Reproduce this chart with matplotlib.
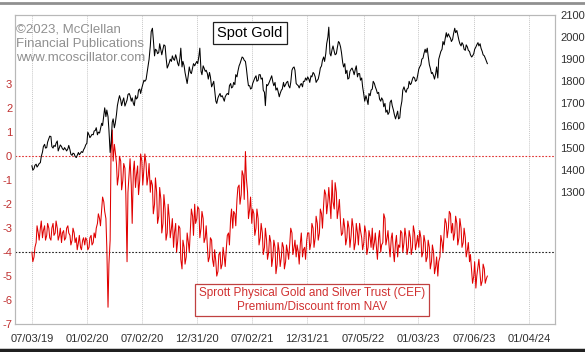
import matplotlib
matplotlib.use("Agg")
import matplotlib.pyplot as plt
from matplotlib.lines import Line2D
import pandas as pd

plt.rcParams['font.family'] = ['Liberation Sans', 'DejaVu Sans']

start_date = "2019-07-03"

# weekly (Wednesday) readings
gold = [
    1418, 1405, 1425, 1420, 1432, 1480, 1515, 1500, 1540, 1550, 1498, 1505, 1530,
    1500, 1505, 1490, 1492, 1495, 1490, 1465, 1472, 1455, 1478, 1475, 1478, 1500,
    1520, 1558, 1553, 1558, 1578, 1558, 1566, 1610, 1645, 1640, 1640, 1478, 1615,
    1590, 1650, 1718, 1715, 1712, 1688, 1715, 1745, 1710, 1700, 1735, 1727, 1765,
    1770, 1805, 1808, 1868, 1960, 2040, 1915, 1940, 1930, 1940, 1945, 1960, 1860,
    1885, 1890, 1900, 1920, 1880, 1905, 1865, 1870, 1810, 1830, 1840, 1860, 1870, 1890,
    1915, 1845, 1870, 1845, 1835, 1840, 1775, 1800, 1710, 1725, 1745, 1735, 1710,
    1740, 1740, 1790, 1775, 1785, 1820, 1870, 1898, 1905, 1890, 1810, 1780, 1770,
    1805, 1825, 1805, 1830, 1815, 1750, 1785, 1790, 1815, 1795, 1795, 1770, 1730,
    1760, 1795, 1785, 1800, 1770, 1850, 1865, 1790, 1780, 1785, 1775, 1800, 1805,
    1810, 1825, 1840, 1820, 1805, 1835, 1870, 1910, 1925, 2000, 1925, 1945, 1935,
    1925, 1980, 1955, 1885, 1880, 1850, 1815, 1855, 1845, 1855, 1820, 1835, 1815,
    1740, 1735, 1695, 1735, 1765, 1790, 1760, 1750, 1710, 1715, 1700, 1670, 1660,
    1715, 1670, 1630, 1665, 1635, 1710, 1775, 1750, 1770, 1785, 1810, 1815, 1805,
    1855, 1875, 1905, 1945, 1950, 1875, 1835, 1825, 1835, 1815, 1920, 1945, 1965,
    2020, 2015, 1995, 1990, 2040, 2030, 1985, 1960, 1965, 1940, 1955, 1935, 1910,
    1925, 1955, 1975, 1970, 1935, 1915, 1890,
]
# readings half-way between the weekly ones
gold_mid = [
    1398, 1420, 1412, 1428, 1460, 1505, 1498, 1525, 1552, 1505, 1510, 1520, 1485,
    1512, 1495, 1500, 1485, 1510, 1470, 1475, 1460, 1465, 1468, 1482, 1490, 1512,
    1570, 1545, 1560, 1575, 1590, 1570, 1585, 1600, 1680, 1670, 1580, 1520, 1630,
    1610, 1690, 1735, 1690, 1725, 1700, 1740, 1735, 1725, 1690, 1720, 1760, 1745,
    1785, 1800, 1835, 1900, 2025, 1990, 1945, 1925, 1970, 1920, 1965, 1910, 1870,
    1900, 1915, 1895, 1905, 1870, 1950, 1890, 1840, 1790, 1865, 1835, 1880, 1880, 1880,
    1950, 1830, 1860, 1850, 1810, 1820, 1785, 1760, 1700, 1735, 1730, 1725, 1730,
    1745, 1780, 1770, 1795, 1830, 1845, 1880, 1910, 1895, 1860, 1780, 1765, 1790,
    1815, 1800, 1830, 1810, 1760, 1690, 1780, 1800, 1825, 1780, 1760, 1755, 1745,
    1765, 1775, 1795, 1780, 1795, 1860, 1850, 1785, 1770, 1790, 1800, 1815, 1820,
    1795, 1820, 1835, 1795, 1810, 1860, 1895, 1890, 1970, 2045, 1915, 1960, 1920,
    1950, 1975, 1930, 1865, 1835, 1810, 1845, 1860, 1830, 1870, 1835, 1805, 1775,
    1710, 1720, 1745, 1760, 1800, 1775, 1745, 1720, 1725, 1685, 1660, 1650, 1705,
    1690, 1650, 1645, 1630, 1680, 1760, 1760, 1765, 1800, 1790, 1820, 1800, 1825,
    1865, 1900, 1925, 1930, 1915, 1860, 1840, 1810, 1865, 1900, 1935, 1980, 1990,
    2000, 2005, 1980, 2015, 2020, 2010, 1970, 1975, 1945, 1965, 1940, 1920, 1915,
    1945, 1965, 1960, 1950, 1920, 1905, 1880,
]

cef_premium = [
    -4.0, -4.2, -3.6, -3.2, -3.0, -3.4, -2.9, -3.3, -3.0, -3.5, -2.8, -3.2, -3.0,
    -3.3, -3.6, -3.1, -3.4, -2.9, -3.3, -3.5, -3.2, -3.4, -3.6, -3.8, -3.5, -3.7,
    -3.5, -3.8, -3.3, -3.6, -3.4, -2.8, -2.6, -2.2, -1.9, -2.6, -6.3, -3.5, 1.1,
    0.5, -0.3, -0.8, -0.2, -1.0, -0.5, -4.4, -0.7, -1.2, -0.6, -1.3, -0.4, -1.0,
    -0.2, -0.5, -0.3, -0.8, -1.5, -1.2, -2.0, -1.5, -2.5, -1.8, -2.8, -2.2, -3.2,
    -2.6, -3.0, -3.8, -2.8, -3.5, -3.0, -4.7, -3.8, -4.2, -3.6, -3.0, -2.5, -2.0, -2.6,
    -2.2, -3.0, -2.6, -3.4, -3.8, -4.2, -3.5, -4.6, -4.4, -4.8, -4.0, -4.5, -4.2,
    -3.8, -3.2, -2.6, -3.0, -2.4, -1.8, -1.2, -1.6, -0.8, 0.2, -1.5, -2.2, -2.8,
    -2.4, -3.0, -2.6, -3.4, -3.2, -3.8, -3.5, -4.0, -3.6, -4.2, -3.8, -4.5, -4.0,
    -4.2, -3.8, -4.4, -4.0, -3.6, -3.2, -3.8, -4.2, -4.0, -3.6, -4.2, -3.8, -3.5,
    -3.2, -3.6, -3.0, -3.4, -2.8, -3.2, -2.4, -2.0, -1.6, -1.9, -2.0, -1.0, -2.2,
    -1.5, -2.2, -2.8, -3.2, -3.0, -3.4, -3.0, -3.3, -3.0, -3.6, -3.2, -2.8, -3.4,
    -3.6, -3.2, -3.8, -3.4, -3.0, -3.6, -3.8, -3.4, -4.0, -3.6, -2.6, -3.4, -3.8,
    -3.4, -4.0, -3.6, -4.2, -3.8, -3.2, -3.6, -3.4, -3.8, -3.4, -3.8, -3.2, -3.6,
    -3.8, -3.4, -4.0, -3.6, -4.2, -3.8, -4.4, -4.0, -4.6, -5.0, -4.2, -3.6, -3.2,
    -2.8, -3.0, -2.4, -2.8, -3.2, -2.8, -3.4, -3.0, -3.6, -3.4, -3.9, -4.4, -4.8,
    -5.0, -5.5, -4.6, -4.9, -5.2, -4.7, -5.1,
]
cef_premium_mid = [
    -4.4, -3.8, -2.9, -3.5, -2.7, -3.1, -3.5, -2.8, -3.4, -3.0, -3.3, -2.7, -3.5,
    -3.0, -3.2, -3.5, -3.0, -3.2, -3.7, -3.0, -3.6, -3.9, -3.3, -3.9, -3.4, -3.4,
    -3.9, -3.4, -3.7, -3.2, -3.0, -2.4, -2.9, -1.7, -2.3, -3.8, -4.5, 0.2, -0.2,
    0.2, -1.2, 0.0, -1.4, -0.3, -1.6, -1.5, -0.1, -2.8, -0.2, -0.8, -1.6, 0.1,
    -1.2, 0.1, -1.2, -0.3, -1.0, -2.4, -0.9, -2.8, -1.3, -3.2, -1.6, -3.5, -2.0,
    -3.4, -2.6, -3.2, -4.0, -2.9, -4.3, -3.5, -4.5, -3.2, -4.0, -2.2, -3.3, -2.8, -2.1,
    -3.4, -2.3, -3.6, -2.9, -4.4, -3.4, -4.3, -3.9, -5.0, -4.1, -4.7, -3.8, -4.6,
    -3.3, -3.7, -2.2, -2.3, -2.9, -1.3, -2.0, -0.6, -1.8, -0.9, -2.6, -1.7, -2.2,
    -3.3, -2.2, -3.7, -2.8, -4.1, -3.0, -4.3, -3.3, -4.6, -3.5, -4.9, -3.6, -4.6,
    -3.6, -4.7, -3.7, -4.3, -3.0, -4.1, -3.5, -3.7, -4.5, -3.2, -3.9, -4.3, -3.2,
    -3.9, -2.8, -3.8, -2.5, -3.5, -2.2, -3.0, -1.4, -2.4, -1.3, -2.6, -1.9, -1.1,
    -2.6, -1.8, -3.3, -2.6, -3.7, -2.7, -3.8, -2.6, -3.9, -2.8, -3.7, -3.1, -3.9,
    -2.9, -4.1, -3.1, -3.8, -3.9, -3.2, -4.3, -3.1, -3.7, -2.4, -3.7, -3.1, -4.2,
    -3.2, -4.4, -3.3, -3.7, -3.1, -4.0, -3.0, -4.1, -3.1, -4.1, -2.9, -3.9, -3.3,
    -3.1, -4.2, -3.3, -4.4, -3.5, -4.7, -3.7, -4.9, -4.2, -4.4, -3.3, -4.0, -2.6,
    -3.4, -2.3, -3.2, -3.5, -2.5, -3.7, -2.6, -3.8, -3.0, -4.2, -3.6, -4.1, -5.3,
    -4.4, -5.0, -4.3, -5.4, -4.5, -5.3, -5.0,
]

tick_dates = ["2019-07-03", "2020-01-02", "2020-07-02", "2020-12-31", "2021-07-02",
              "2021-12-31", "2022-07-05", "2023-01-03", "2023-07-06", "2024-01-04"]
tick_labels = ["07/03/19", "01/02/20", "07/02/20", "12/31/20", "07/02/21",
               "12/31/21", "07/05/22", "01/03/23", "07/06/23", "01/04/24"]
left_ticks = [3, 2, 1, 0, -1, -2, -3, -4, -5, -6, -7]
right_ticks = [2100, 2000, 1900, 1800, 1700, 1600, 1500, 1400, 1300]

wk = pd.date_range(start_date, periods=len(gold), freq="W-WED")
mid = wk + pd.Timedelta(days=3)
g = pd.concat([pd.Series(gold, index=wk), pd.Series(gold_mid, index=mid)]).sort_index()
c = pd.concat([pd.Series(cef_premium, index=wk), pd.Series(cef_premium_mid, index=mid)]).sort_index()

W, H = 585, 352
fig = plt.figure(figsize=(W / 100, H / 100), dpi=100)
fig.patch.set_facecolor("white")
L, R, T, B = 15, 555, 15, 324
ax = fig.add_axes([L / W, 1 - B / H, (R - L) / W, (B - T) / H])
ax2 = ax.twinx()

ax.set_xlim(pd.Timestamp("2019-05-08"), pd.Timestamp("2024-03-30"))
ax.set_ylim(-6.96, 5.9)
ax2.set_ylim(702, 2100)

for d in tick_dates:
    ax.axvline(pd.Timestamp(d), color="#c8c8c8", lw=0.7, ls=(0, (1, 1)), zorder=0)
ax.axhline(0, color="#e03030", lw=0.8, ls=(0, (1.5, 1.5)), zorder=1)
ax.axhline(-4, color="#202020", lw=0.8, ls=(0, (1.5, 1.5)), zorder=1)

ax.plot(c.index, c.values, color="#e00000", lw=0.75, zorder=3)
ax2.plot(g.index, g.values, color="#000000", lw=0.75, zorder=3)

ax.set_xticks([pd.Timestamp(d) for d in tick_dates])
ax.set_xticklabels(tick_labels)
ax.set_yticks(left_ticks)
ax.set_yticklabels([str(v) for v in left_ticks])
ax2.set_yticks(right_ticks)
ax2.set_yticklabels([str(v) for v in right_ticks])

ax.tick_params(axis="x", length=0, pad=7, labelsize=8, labelcolor="#303030")
ax.tick_params(axis="y", length=0, pad=2, labelsize=8, labelcolor="#c03030")
ax2.tick_params(axis="y", length=0, pad=4, labelsize=8, labelcolor="#303030")

for a in (ax, ax2):
    for s in a.spines.values():
        s.set_color("#b8b8b8")
        s.set_linewidth(0.8)
ax2.set_zorder(ax.get_zorder() + 1)
ax2.patch.set_visible(False)

ax2.text(16 / W, 1 - 23 / H, "\u00a92023, McClellan\nFinancial Publications\nwww.mcoscillator.com",
         transform=fig.transFigure, ha="left", va="top", fontsize=9.5, color="#909090",
         linespacing=1.3, zorder=5)

ax2.text(250 / W, 1 - 33 / H, "Spot Gold", transform=fig.transFigure, ha="center", va="center",
         fontsize=10.5, color="black", zorder=6,
         bbox=dict(boxstyle="square,pad=0.3", fc="white", ec="#202020", lw=0.9))

ax2.text(312 / W, 1 - 300 / H, "Sprott Physical Gold and Silver Trust (CEF)\nPremium/Discount from NAV",
         transform=fig.transFigure, ha="center", va="center", fontsize=8.5, color="#d03030",
         linespacing=1.15, zorder=6,
         bbox=dict(boxstyle="square,pad=0.3", fc="white", ec="#c04040", lw=0.9))

fig.add_artist(Line2D([0, 1], [1 - 3 / H, 1 - 3 / H], transform=fig.transFigure,
                      color="#909090", lw=2))
fig.add_artist(Line2D([0, 1], [1 - 350 / H, 1 - 350 / H], transform=fig.transFigure,
                      color="#202020", lw=2.5))

fig.savefig("out.png", dpi=100, facecolor="white")
